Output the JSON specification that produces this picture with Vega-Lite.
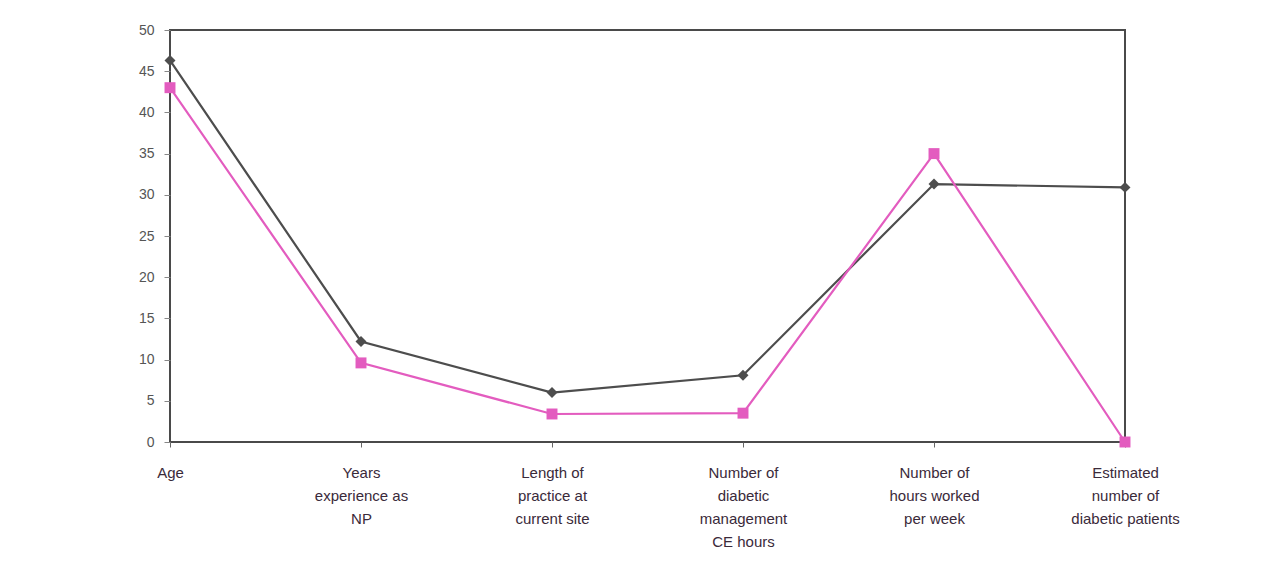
{
  "$schema": "https://vega.github.io/schema/vega-lite/v6.json",
  "autosize": "none",
  "padding": {"left": 170, "top": 30, "right": 153, "bottom": 145},
  "width": 955,
  "height": 412,
  "background": "white",
  "config": {
    "view": {"stroke": "#4a4a4a", "strokeWidth": 2},
    "axis": {"labelFont": "Liberation Sans", "labelColor": "#333", "grid": false}
  },
  "data": {
    "values": [
      {"cat": "Age", "series": "A", "value": 46.3},
      {"cat": "Years|experience as|NP", "series": "A", "value": 12.2},
      {"cat": "Length of|practice at|current site", "series": "A", "value": 6.0},
      {"cat": "Number of|diabetic|management|CE hours", "series": "A", "value": 8.1},
      {"cat": "Number of|hours worked|per week", "series": "A", "value": 31.3},
      {"cat": "Estimated|number of|diabetic patients", "series": "A", "value": 30.9},
      {"cat": "Age", "series": "B", "value": 43.0},
      {"cat": "Years|experience as|NP", "series": "B", "value": 9.6},
      {"cat": "Length of|practice at|current site", "series": "B", "value": 3.4},
      {"cat": "Number of|diabetic|management|CE hours", "series": "B", "value": 3.5},
      {"cat": "Number of|hours worked|per week", "series": "B", "value": 35.0},
      {"cat": "Estimated|number of|diabetic patients", "series": "B", "value": 0.0}
    ]
  },
  "encoding": {
    "x": {
      "field": "cat", "type": "nominal", "sort": null,
      "scale": {"type": "point", "padding": 0},
      "axis": {
        "title": null, "labelAngle": 0, "labelExpr": "split(datum.label, '|')",
        "labelFontSize": 15, "labelLineHeight": 23, "labelPadding": 18,
        "labelColor": "#3a2a3a", "domain": false, "ticks": true, "tickSize": 5,
        "tickColor": "#666", "labelBaseline": "top"
      }
    },
    "y": {
      "field": "value", "type": "quantitative",
      "scale": {"domain": [0, 50], "nice": false},
      "axis": {
        "title": null, "values": [0, 5, 10, 15, 20, 25, 30, 35, 40, 45, 50],
        "labelFontSize": 14, "labelPadding": 10, "tickSize": 6, "tickColor": "#888",
        "domain": false, "labelColor": "#555"
      }
    },
    "color": {
      "field": "series", "type": "nominal",
      "scale": {"domain": ["A", "B"], "range": ["#4d4d4d", "#e35cbf"]},
      "legend": null
    }
  },
  "layer": [
    {"mark": {"type": "line", "strokeWidth": 2.2}},
    {
      "mark": {"type": "point", "filled": true, "size": 120, "opacity": 1},
      "encoding": {
        "shape": {"field": "series", "type": "nominal", "scale": {"domain": ["A", "B"], "range": ["diamond", "square"]}, "legend": null},
        "color": {"field": "series", "type": "nominal", "scale": {"domain": ["A", "B"], "range": ["#666666", "#e850b8"]}, "legend": null}
      }
    }
  ]
}
